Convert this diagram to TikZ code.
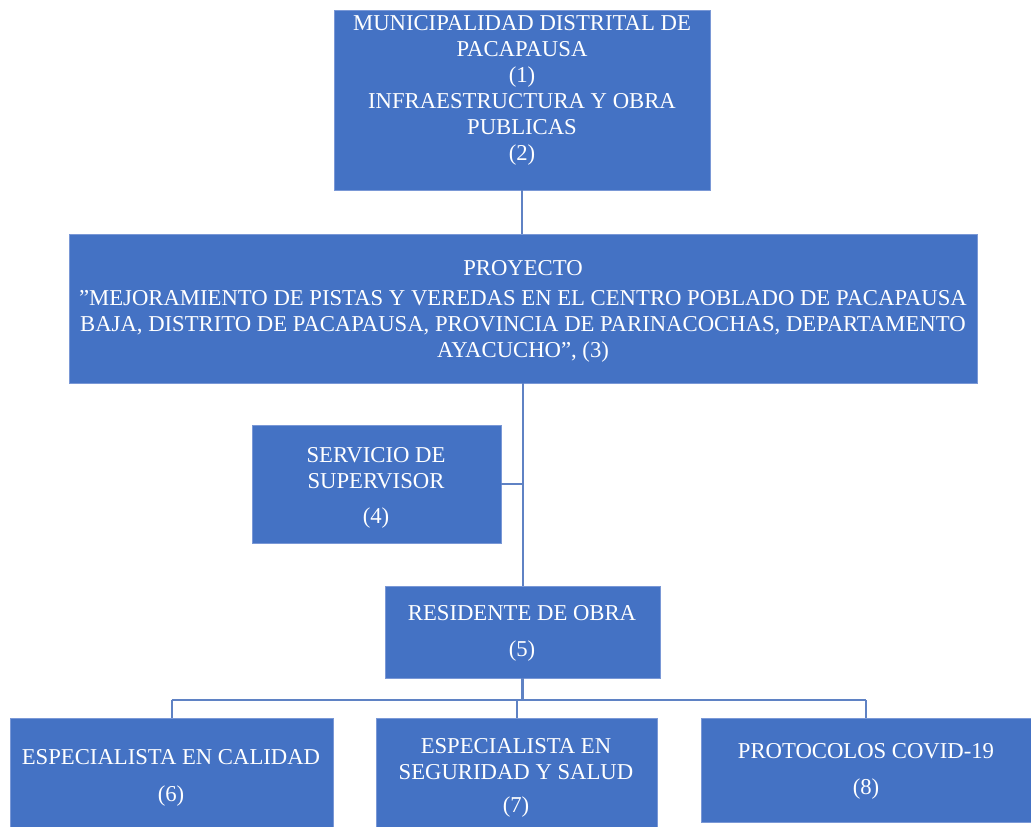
\documentclass[tikz,border=0pt]{standalone}
\usepackage{fontspec}
\setmainfont{Liberation Serif}[Ligatures=ResetAll]
\definecolor{boxblue}{HTML}{4472C4}
\definecolor{boxedge}{HTML}{7A98D6}
\definecolor{linkblue}{HTML}{5F82C4}
\begin{document}
\begin{tikzpicture}[x=1pt,y=-1pt,
  orgbox/.style={rectangle, fill=boxblue, draw=boxedge, line width=0.8pt, inner sep=0pt},
  orgtext/.style={text=white, align=center, font=\fontsize{22.7}{26}\selectfont, inner sep=0pt},
  conn/.style={draw=linkblue, line width=2pt}]
\useasboundingbox (0,0) rectangle (1031,827);
\begin{scope}
\clip (0,0) rectangle (1031,827);
% boxes
\node[orgbox, minimum width=376pt, minimum height=180pt] (b1) at (522,100) {};
\node[orgbox, minimum width=908pt, minimum height=149pt] (b3) at (523,308.5) {};
\node[orgbox, minimum width=249pt, minimum height=118pt] (b4) at (376.5,484) {};
\node[orgbox, minimum width=275pt, minimum height=92pt] (b5) at (522.5,632) {};
\node[orgbox, minimum width=323pt, minimum height=112pt] (b6) at (171.5,774) {};
\node[orgbox, minimum width=281pt, minimum height=112pt] (b7) at (516.5,774) {};
\node[orgbox, minimum width=330pt, minimum height=104pt] (b8) at (866,770) {};
% texts
\node[orgtext] (t1) at (522,90) {MUNICIPALIDAD DISTRITAL DE\\PACAPAUSA\\(1)\\INFRAESTRUCTURA Y OBRA\\PUBLICAS\\(2)};
\node[orgtext] (t3) at (523,311) {PROYECTO\\[4pt]"MEJORAMIENTO DE PISTAS Y VEREDAS EN EL CENTRO POBLADO DE PACAPAUSA\\BAJA, DISTRITO DE PACAPAUSA, PROVINCIA DE PARINACOCHAS, DEPARTAMENTO\\AYACUCHO”, (3)};
\node[orgtext] (t4) at (376,488) {SERVICIO DE\\SUPERVISOR\\[9pt](4)};
\node[orgtext] (t5) at (522,633) {RESIDENTE DE OBRA\\[10pt](5)};
\node[orgtext] (t6) at (171,778) {ESPECIALISTA EN CALIDAD\\[11pt](6)};
\node[orgtext] (t7) at (516,778) {ESPECIALISTA EN\\SEGURIDAD Y SALUD\\[7pt](7)};
\node[orgtext] (t8) at (866,771) {PROTOCOLOS COVID-19\\[10pt](8)};
% connectors
\coordinate (bar) at (522,700);
\draw[conn] (b1.south) -- (b1.south |- b3.north);
\draw[conn] (b3.south -| b5.north) -- (b5.north);
\draw[conn] (b4.east) -- (b4.east -| b5.north);
\draw[conn, line width=2.8pt] (b5.south) -- (b5.south |- bar);
\draw[conn] (b6.north |- bar) -- (b8.north |- bar);
\draw[conn] (b6.north |- bar) -- (b6.north);
\draw[conn] (b7.north |- bar) -- (b7.north);
\draw[conn] (b8.north |- bar) -- (b8.north);
\end{scope}
\end{tikzpicture}
\end{document}
